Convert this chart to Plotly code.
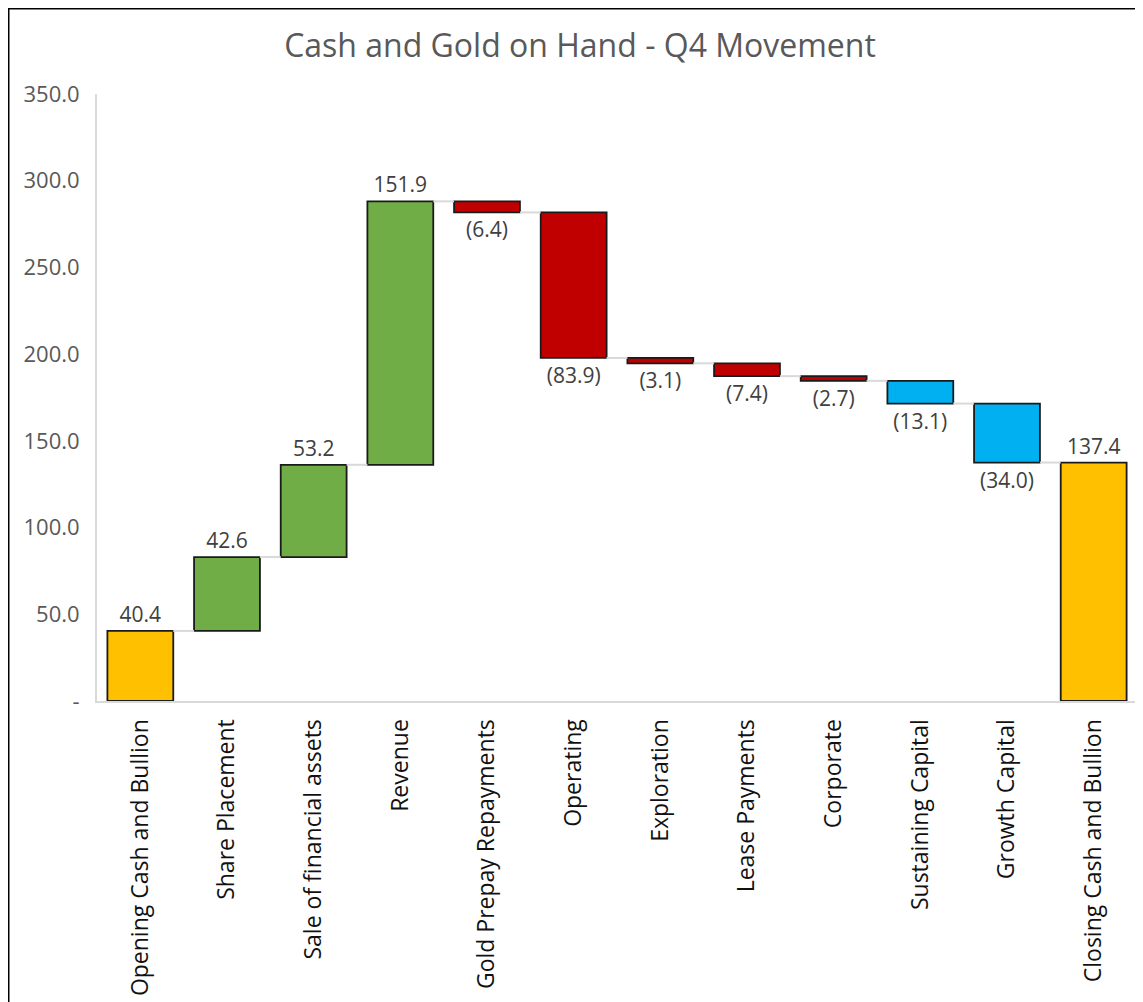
import plotly.graph_objects as go

# Chart data
categories = [
    "Opening Cash and Bullion", "Share Placement", "Sale of financial assets",
    "Revenue", "Gold Prepay Repayments", "Operating", "Exploration",
    "Lease Payments", "Corporate", "Sustaining Capital", "Growth Capital",
    "Closing Cash and Bullion",
]
values = [40.4, 42.6, 53.2, 151.9, -6.4, -83.9, -3.1, -7.4, -2.7, -13.1, -34.0, 137.4]
kinds = ["total", "up", "up", "up", "cost", "cost", "cost", "cost", "cost",
         "capex", "capex", "total"]
y_ticks = [0, 50, 100, 150, 200, 250, 300, 350]
y_tick_labels = ["-", "50.0", "100.0", "150.0", "200.0", "250.0", "300.0", "350.0"]

COLORS = {"total": "#FFC000", "up": "#70AD47", "cost": "#C00000", "capex": "#00B0F0"}
BAR_W = 0.76
# page body adds an 8px offset, so the figure is a bit smaller than the window
OFF = 8
W, H = 1143 - OFF, 1002 - OFF
L, T = 97 - OFF, 94 - OFF
R = W - (1137 - OFF)
B = H - (701 - OFF)
LABEL_GREY = "#404040"
AXIS_GREY = "#595959"

# Work out bar bases from running total
bases, ends = [], []
running = 0.0
for v, k in zip(values, kinds):
    if k == "total":
        bases.append(0.0)
        running = v
    else:
        bases.append(running)
        running += v
    ends.append(running)

xs = list(range(len(categories)))
texts = [f"{v:.1f}" if v >= 0 else f"({abs(v):.1f})" for v in values]

fig = go.Figure()

# Connector lines
cx, cy = [], []
for i in range(len(values) - 1):
    cx += [i + BAR_W / 2, i + 1 - BAR_W / 2, None]
    cy += [ends[i], ends[i], None]
fig.add_trace(go.Scatter(
    x=cx, y=cy, mode="lines",
    line=dict(color="#D9D9D9", width=2),
    hoverinfo="skip", showlegend=False,
))

fig.add_trace(go.Bar(
    x=xs, y=values, base=bases, width=BAR_W,
    marker=dict(color=[COLORS[k] for k in kinds], line=dict(color="#1a1a1a", width=1.8)),
    text=texts, textposition="outside", constraintext="none", cliponaxis=False,
    textfont=dict(family="Open Sans", size=21, color=LABEL_GREY),
    showlegend=False,
))

plot_w = W - L - R
plot_h = H - T - B

def px_x(p):
    return (p - L) / plot_w

def px_y(p):
    return (H - B - p) / plot_h

# Outer frame (only top and left edges are in view)
fig.add_shape(type="line", xref="paper", yref="paper",
              x0=px_x(0), x1=px_x(W + 50), y0=px_y(0.5), y1=px_y(0.5),
              line=dict(color="black", width=2))
fig.add_shape(type="line", xref="paper", yref="paper",
              x0=px_x(0.5), x1=px_x(0.5), y0=px_y(0), y1=px_y(H + 50),
              line=dict(color="black", width=2))

fig.update_layout(
    width=W, height=H,
    margin=dict(l=L, r=R, t=T, b=B, pad=0),
    paper_bgcolor="white", plot_bgcolor="white",
    font=dict(family="Open Sans", color=AXIS_GREY),
    title=dict(
        text="Cash and Gold on Hand - Q4 Movement",
        x=(580 - OFF) / W, xanchor="center", xref="container",
        y=1 - (46 - OFF) / H, yanchor="middle", yref="container",
        font=dict(family="Open Sans", size=32, color=AXIS_GREY),
    ),
    xaxis=dict(
        tickmode="array", tickvals=xs, ticktext=categories,
        range=[-0.5, len(categories) - 0.5],
        tickangle=-90, tickfont=dict(size=23, color="#111111"),
        showline=True, linecolor="#D9D9D9", linewidth=2,
        showgrid=False, zeroline=False,
        ticks="outside", ticklen=7, tickcolor="white",
    ),
    yaxis=dict(
        tickmode="array", tickvals=y_ticks, ticktext=y_tick_labels,
        range=[0, 350], tickfont=dict(size=22, color=AXIS_GREY),
        showline=True, linecolor="#D9D9D9", linewidth=2,
        showgrid=False, zeroline=False,
        ticks="outside", ticklen=11, tickcolor="white",
    ),
    bargap=0.24,
)

fig.write_html("out.html")
